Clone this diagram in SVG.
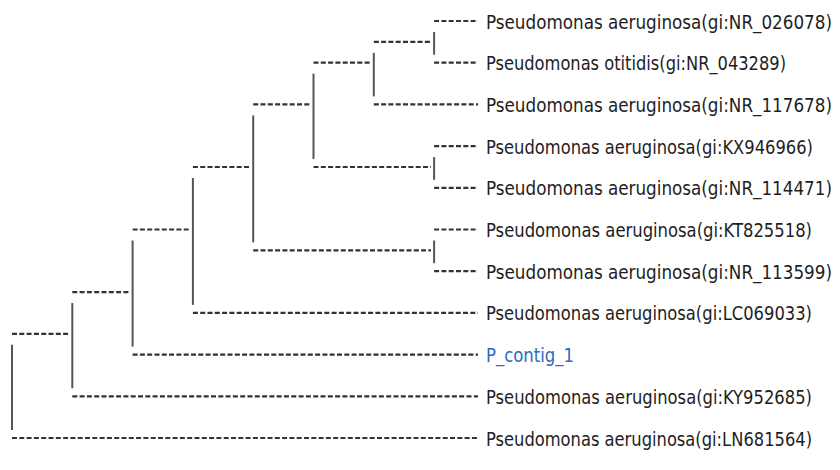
<svg xmlns="http://www.w3.org/2000/svg" width="840" height="470" viewBox="0 0 840 470">
  <style>
    .dash { stroke: #333333; stroke-width: 2.2; stroke-dasharray: 5 2.3; fill: none; }
    .stem { stroke: #555555; stroke-width: 2; fill: none; }
    .lbl { font-family: "DejaVu Sans Condensed", "DejaVu Sans", "Liberation Sans", sans-serif; font-stretch: condensed; font-size: 18.8px; fill: #1e1e1e; }
    .query { fill: #2b6cc4; }
  </style>
  <rect width="840" height="470" fill="#ffffff"/>
  <g id="connectors">
    <line class="dash" x1="434.1" y1="21" x2="478" y2="21"/>
    <line class="dash" x1="373.8" y1="41.9" x2="431" y2="41.9"/>
    <line class="dash" x1="434.1" y1="62.7" x2="478" y2="62.7"/>
    <line class="dash" x1="313.5" y1="62.7" x2="371" y2="62.7"/>
    <line class="dash" x1="373.8" y1="104.4" x2="478" y2="104.4"/>
    <line class="dash" x1="253.2" y1="104.4" x2="311" y2="104.4"/>
    <line class="dash" x1="434.1" y1="146.1" x2="478" y2="146.1"/>
    <line class="dash" x1="313.5" y1="167" x2="431" y2="167"/>
    <line class="dash" x1="434.1" y1="187.8" x2="478" y2="187.8"/>
    <line class="dash" x1="192.9" y1="167" x2="250" y2="167"/>
    <line class="dash" x1="434.1" y1="229.5" x2="478" y2="229.5"/>
    <line class="dash" x1="253.2" y1="250.4" x2="431" y2="250.4"/>
    <line class="dash" x1="434.1" y1="271.2" x2="478" y2="271.2"/>
    <line class="dash" x1="132.6" y1="229.5" x2="190" y2="229.5"/>
    <line class="dash" x1="192.9" y1="312.9" x2="478" y2="312.9"/>
    <line class="dash" x1="72.3" y1="292.1" x2="130" y2="292.1"/>
    <line class="dash" x1="132.6" y1="354.6" x2="478" y2="354.6"/>
    <line class="dash" x1="12" y1="333.8" x2="69" y2="333.8"/>
    <line class="dash" x1="72.3" y1="396.3" x2="478" y2="396.3"/>
    <line class="dash" x1="12" y1="438" x2="478" y2="438"/>
    <line class="stem" x1="434.1" y1="32" x2="434.1" y2="54.7"/>
    <line class="stem" x1="373.8" y1="52.9" x2="373.8" y2="96.4"/>
    <line class="stem" x1="313.5" y1="73.7" x2="313.5" y2="159"/>
    <line class="stem" x1="434.1" y1="157.1" x2="434.1" y2="179.8"/>
    <line class="stem" x1="253.2" y1="115.4" x2="253.2" y2="242.4"/>
    <line class="stem" x1="434.1" y1="240.5" x2="434.1" y2="263.2"/>
    <line class="stem" x1="192.9" y1="178" x2="192.9" y2="304.9"/>
    <line class="stem" x1="132.6" y1="240.5" x2="132.6" y2="346.6"/>
    <line class="stem" x1="72.3" y1="303" x2="72.3" y2="388.3"/>
    <line class="stem" x1="12" y1="344.8" x2="12" y2="430"/>
  </g>
  <g id="leaf-NR_026078"><text class="lbl" x="486" y="28.5" textLength="346" lengthAdjust="spacingAndGlyphs">Pseudomonas aeruginosa(gi:NR_026078)</text></g>
  <g id="leaf-NR_043289"><text class="lbl" x="486" y="70.2" textLength="300" lengthAdjust="spacingAndGlyphs">Pseudomonas otitidis(gi:NR_043289)</text></g>
  <g id="leaf-NR_117678"><text class="lbl" x="486" y="111.9" textLength="346" lengthAdjust="spacingAndGlyphs">Pseudomonas aeruginosa(gi:NR_117678)</text></g>
  <g id="leaf-KX946966"><text class="lbl" x="486" y="153.6" textLength="327" lengthAdjust="spacingAndGlyphs">Pseudomonas aeruginosa(gi:KX946966)</text></g>
  <g id="leaf-NR_114471"><text class="lbl" x="486" y="195.3" textLength="346" lengthAdjust="spacingAndGlyphs">Pseudomonas aeruginosa(gi:NR_114471)</text></g>
  <g id="leaf-KT825518"><text class="lbl" x="486" y="237" textLength="326" lengthAdjust="spacingAndGlyphs">Pseudomonas aeruginosa(gi:KT825518)</text></g>
  <g id="leaf-NR_113599"><text class="lbl" x="486" y="278.7" textLength="346" lengthAdjust="spacingAndGlyphs">Pseudomonas aeruginosa(gi:NR_113599)</text></g>
  <g id="leaf-LC069033"><text class="lbl" x="486" y="320.4" textLength="326" lengthAdjust="spacingAndGlyphs">Pseudomonas aeruginosa(gi:LC069033)</text></g>
  <g id="leaf-P_contig_1"><text class="lbl query" x="486" y="362.1" textLength="88" lengthAdjust="spacingAndGlyphs">P_contig_1</text></g>
  <g id="leaf-KY952685"><text class="lbl" x="486" y="403.8" textLength="326" lengthAdjust="spacingAndGlyphs">Pseudomonas aeruginosa(gi:KY952685)</text></g>
  <g id="leaf-LN681564"><text class="lbl" x="486" y="445.5" textLength="326" lengthAdjust="spacingAndGlyphs">Pseudomonas aeruginosa(gi:LN681564)</text></g>
</svg>
